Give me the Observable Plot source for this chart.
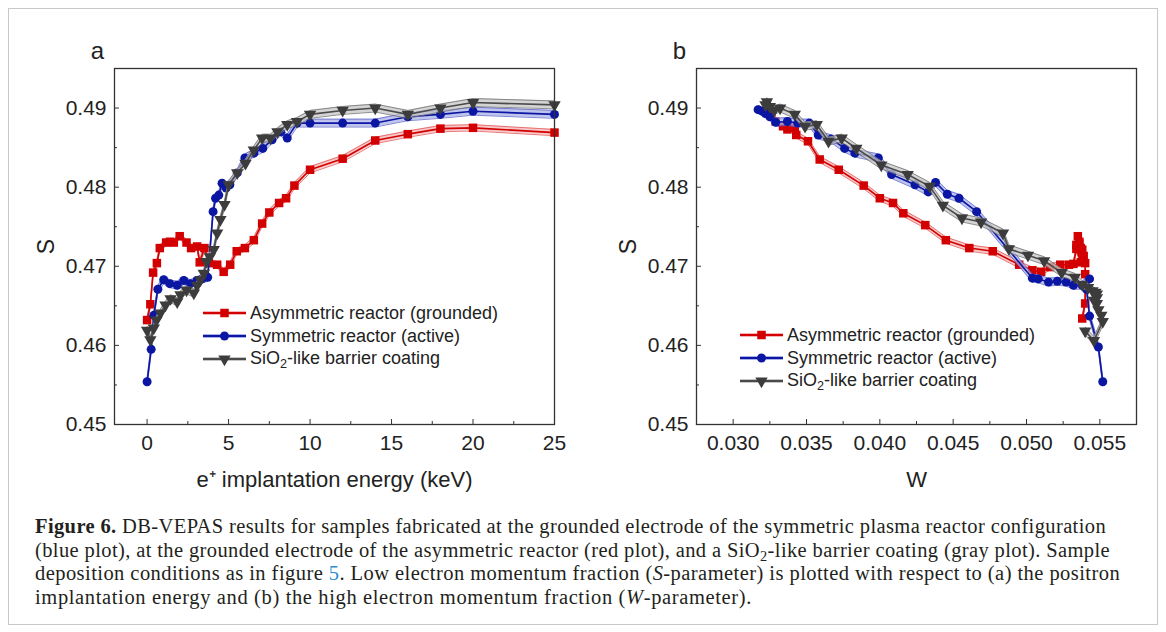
<!DOCTYPE html>
<html>
<head>
<meta charset="utf-8">
<script src="https://cdn.jsdelivr.net/npm/d3@7"></script>
<script src="https://cdn.jsdelivr.net/npm/@observablehq/plot@0.6"></script>
<style>
  body { margin: 0; background: #fff; width: 1166px; height: 632px; overflow: hidden; position: relative;
         font-family: "Liberation Sans", Arial, sans-serif; }
  #border { position: absolute; left: 8px; top: 8px; width: 1150px; height: 617px; border: 1px solid #c8c8c8; box-sizing: border-box; }
  .panel { position: absolute; top: 0; }
  #pa { left: 0; }
  #pb { left: 583px; }
  .legend { position: absolute; font-size: 18px; color: #222; }
  .legend .row { display: flex; align-items: center; height: 22.7px; white-space: nowrap; }
  .legend svg { margin-right: 4px; overflow: visible; }
  .legend sub { font-size: 0.7em; vertical-align: -0.3em; line-height: 0; }
  #caption { position: absolute; left: 35px; top: 515px; font-family: "Liberation Serif", "Times New Roman", serif;
             font-size: 20.5px; line-height: 23.7px; color: #231f20; }
  #caption div { white-space: nowrap; }
  #caption span.line { display: inline-block; }
  #caption sub { font-size: 0.7em; vertical-align: -0.25em; line-height: 0; }
  #caption .ref { color: #2a8ccf; }
</style>
</head>
<body>
<div id="border"></div>
<div id="pa" class="panel"></div>
<div id="pb" class="panel"></div>
<div id="legA" class="legend"></div>
<div id="legB" class="legend"></div>
<div id="caption">
  <div><span class="line" data-width="1071"><b>Figure 6.</b> DB-VEPAS results for samples fabricated at the grounded electrode of the symmetric plasma reactor configuration</span></div>
  <div><span class="line" data-width="1075">(blue plot), at the grounded electrode of the asymmetric reactor (red plot), and a SiO<sub>2</sub>-like barrier coating (gray plot). Sample</span></div>
  <div><span class="line" data-width="1085">deposition conditions as in figure <span class="ref">5</span>. Low electron momentum fraction (<i>S</i>-parameter) is plotted with respect to (a) the positron</span></div>
  <div><span class="line" data-width="717">implantation energy and (b) the high electron momentum fraction (<i>W</i>-parameter).</span></div>
</div>
<script>
// ---- (a) S-parameter vs positron implantation energy (keV) ----
const energyAsym = [0, 0.2, 0.37, 0.6, 0.78, 1.17, 1.4, 1.64, 2.0, 2.42, 2.7, 3.07, 3.23, 3.52, 3.79, 4.3, 4.7, 5.1, 5.5, 6.0, 6.55, 7.06, 7.5, 8.1, 8.53, 9.04, 10, 12, 14, 16, 18, 20, 25];
const sAsym = [0.4632, 0.4652, 0.4692, 0.4704, 0.4723, 0.4730, 0.4731, 0.4730, 0.4738, 0.4730, 0.4723, 0.4725, 0.4705, 0.4723, 0.4704, 0.4702, 0.4693, 0.4702, 0.4719, 0.4723, 0.4733, 0.4754, 0.4768, 0.4780, 0.4786, 0.4802, 0.4822, 0.4836, 0.4859, 0.4867, 0.4874, 0.4875, 0.4869];

const energySym = [0, 0.25, 0.41, 0.66, 1.02, 1.39, 1.85, 2.25, 2.66, 3.07, 3.38, 3.72, 4.05, 4.2, 4.4, 4.6, 4.85, 5.08, 5.53, 6.0, 6.55, 7.1, 7.67, 8.2, 8.6, 9.2, 10, 12, 14, 16, 18, 20, 25];
const sSym = [0.4554, 0.4595, 0.4638, 0.4671, 0.4683, 0.4678, 0.4676, 0.4682, 0.4678, 0.4682, 0.4684, 0.4686, 0.4769, 0.4786, 0.4790, 0.4805, 0.4799, 0.4803, 0.4818, 0.4837, 0.4843, 0.4849, 0.4860, 0.4870, 0.4862, 0.4881, 0.4881, 0.4881, 0.4881, 0.4889, 0.4892, 0.4896, 0.4892];

const energySio = [0, 0.2, 0.41, 0.58, 0.82, 1.13, 1.44, 1.85, 2.05, 2.42, 2.87, 3.07, 3.28, 3.48, 3.64, 3.85, 4.09, 4.3, 4.5, 4.75, 5.0, 5.53, 6.04, 6.55, 7.06, 7.57, 8.0, 8.6, 9.2, 10, 12, 14, 16, 18, 20, 25];
const sSio = [0.4619, 0.4607, 0.4622, 0.4632, 0.4641, 0.4651, 0.4659, 0.4655, 0.4664, 0.4670, 0.4666, 0.4676, 0.4683, 0.4691, 0.4706, 0.4712, 0.4721, 0.4742, 0.4759, 0.4778, 0.4803, 0.4818, 0.4830, 0.4847, 0.4862, 0.4862, 0.4870, 0.4879, 0.4883, 0.4892, 0.4897, 0.4900, 0.4892, 0.4900, 0.4907, 0.4904];

// ---- (b) S-parameter vs W-parameter ----
const wAsym = [0.0538, 0.0540, 0.0540, 0.0540, 0.0539, 0.0538, 0.0536, 0.0534, 0.0535, 0.0536, 0.0537, 0.0535, 0.0537, 0.0534, 0.0532, 0.0529, 0.0523, 0.0516, 0.0510, 0.0504, 0.0495, 0.0477, 0.0461, 0.0445, 0.0431, 0.0416, 0.0409, 0.0400, 0.0389, 0.0372, 0.0359, 0.0351, 0.0343, 0.0342, 0.0337, 0.0334, 0.0329, 0.0326];
const sAsymW = [0.4634, 0.4653, 0.4690, 0.4704, 0.4713, 0.4721, 0.4729, 0.4727, 0.4738, 0.4731, 0.4723, 0.4725, 0.4705, 0.4722, 0.4703, 0.4702, 0.4702, 0.4699, 0.4693, 0.4695, 0.4702, 0.4719, 0.4723, 0.4733, 0.4752, 0.4767, 0.4780, 0.4786, 0.4802, 0.4822, 0.4835, 0.4858, 0.4866, 0.4875, 0.4873, 0.4877, 0.4883, 0.4894];

const wSym = [0.0552, 0.0549, 0.0543, 0.0541, 0.0543, 0.0538, 0.0532, 0.0527, 0.0521, 0.0515, 0.0508, 0.0504, 0.0466, 0.0454, 0.0446, 0.0438, 0.0433, 0.0424, 0.0408, 0.0399, 0.0383, 0.0376, 0.0367, 0.0358, 0.0352, 0.0344, 0.0337, 0.0329, 0.0325, 0.0322, 0.0320, 0.0317];
const sSymW = [0.4554, 0.4598, 0.4637, 0.4671, 0.4684, 0.4676, 0.4676, 0.4680, 0.4681, 0.4680, 0.4684, 0.4685, 0.4769, 0.4786, 0.4791, 0.4806, 0.4794, 0.4803, 0.4816, 0.4837, 0.4843, 0.4849, 0.4861, 0.4866, 0.4881, 0.4881, 0.4883, 0.4882, 0.4889, 0.4893, 0.4896, 0.4898];

const wSio = [0.0540, 0.0546, 0.0552, 0.0551, 0.0549, 0.0548, 0.0548, 0.0546, 0.0548, 0.0545, 0.0547, 0.0542, 0.0538, 0.0533, 0.0524, 0.0512, 0.0501, 0.0488, 0.0484, 0.0469, 0.0456, 0.0443, 0.0434, 0.0419, 0.0401, 0.0384, 0.0374, 0.0365, 0.0357, 0.0349, 0.0342, 0.0332, 0.0328, 0.0325, 0.0323, 0.0322];
const sSioW = [0.4618, 0.4606, 0.4630, 0.4638, 0.4645, 0.4653, 0.4660, 0.4657, 0.4665, 0.4669, 0.4667, 0.4673, 0.4677, 0.4686, 0.4692, 0.4707, 0.4714, 0.4722, 0.4742, 0.4756, 0.4761, 0.4777, 0.4801, 0.4816, 0.4828, 0.4849, 0.4862, 0.4858, 0.4879, 0.4877, 0.4892, 0.4900, 0.4897, 0.4902, 0.4908, 0.4904];

// Half-width of the uncertainty band of each series (S units)
const bandAsym = 0.0004, bandSym = 0.0005, bandSio = 0.0005;

// Tick values
const sTicks = [0.45, 0.46, 0.47, 0.48, 0.49];
const sMinor = [0.455, 0.465, 0.475, 0.485];
const eTicks = [0, 5, 10, 15, 20, 25];
const eMinor = [2.5, 7.5, 12.5, 17.5, 22.5];
const wTicks = [0.030, 0.035, 0.040, 0.045, 0.050, 0.055];
const wMinor = [0.0325, 0.0375, 0.0425, 0.0475, 0.0525];

const seriesNames = ["Asymmetric reactor (grounded)", "Symmetric reactor (active)", "SiO\u2082-like barrier coating"];

// Downward-pointing triangle symbol
const triangleDown = {
  draw(ctx, size) {
    const a = Math.sqrt(size * 4 / Math.sqrt(3));
    const h = a * Math.sqrt(3) / 2;
    ctx.moveTo(-a / 2, -h / 3);
    ctx.lineTo(a / 2, -h / 3);
    ctx.lineTo(0, 2 * h / 3);
    ctx.closePath();
  }
};

const styles = [
  {color: "#d20000", line: "#d20000", band: "#f6b4b4", edge: "#e25a5a", err: bandAsym, symbol: "square", r: 4.8},
  {color: "#0b16a3", line: "#0b16a3", band: "#aab0e8", edge: "#6068c8", err: bandSym, symbol: "circle", r: 4.5},
  {color: "#3c3c3c", line: "#4a4a4a", band: "#c6c6c6", edge: "#707070", err: bandSio, symbol: triangleDown, r: 4.6}
];

const zip = (xs, ys) => xs.map((x, i) => ({x, S: ys[i]}));
const panelA = [zip(energyAsym, sAsym), zip(energySym, sSym), zip(energySio, sSio)];
const panelB = [zip(wAsym, sAsymW), zip(wSym, sSymW), zip(wSio, sSioW)];

function seriesMarks(data, st) {
  return [
    Plot.areaY(data, {x: "x", y1: d => d.S - st.err, y2: d => d.S + st.err, fill: st.band, fillOpacity: 0.75}),
    Plot.line(data, {x: "x", y: d => d.S - st.err, stroke: st.edge, strokeWidth: 0.8}),
    Plot.line(data, {x: "x", y: d => d.S + st.err, stroke: st.edge, strokeWidth: 0.8}),
    Plot.line(data, {x: "x", y: "S", stroke: st.line, strokeWidth: 1.6}),
    Plot.dot(data, {x: "x", y: "S", symbol: st.symbol, r: st.r, fill: st.color, stroke: "none"})
  ];
}

const axisColor = "#333";
function axes(xTicks, xMinor, xFormat) {
  return [
    Plot.axisY(sTicks, {tickSize: -5, tickPadding: 13, tickFormat: d3.format(".2f"), label: null, fontSize: 21, stroke: axisColor}),
    Plot.axisY(sMinor, {tickSize: -3, tickFormat: () => "", label: null, stroke: axisColor}),
    Plot.axisX(xTicks, {tickSize: -5, tickPadding: 16, tickFormat: xFormat, label: null, fontSize: 21, stroke: axisColor}),
    Plot.axisX(xMinor, {tickSize: -3, tickFormat: () => "", label: null, stroke: axisColor})
  ];
}

function panel(datasets, {xDomain, xTicks, xMinor, xFormat, marginLeft, marginRight, xTitle, letter}) {
  return Plot.plot({
    width: 583, height: 500,
    marginTop: 68, marginBottom: 76, marginLeft, marginRight,
    x: {domain: xDomain},
    y: {domain: [0.45, 0.495]},
    style: {fontFamily: "'Liberation Sans', Arial, sans-serif", color: "#222", background: "transparent"},
    marks: [
      ...datasets.flatMap((d, i) => seriesMarks(d, styles[i])),
      Plot.frame({stroke: axisColor, strokeWidth: 1.3}),
      ...axes(xTicks, xMinor, xFormat),
      Plot.text([xTitle], {text: d => d, frameAnchor: "bottom", textAnchor: "middle", dy: 62, fontSize: 22, fill: "#222"}),
      Plot.text(["S"], {text: d => d, frameAnchor: "left", textAnchor: "middle", dx: -68, rotate: -90, fontSize: 23, fill: "#222"}),
      Plot.text([letter], {text: d => d, frameAnchor: "top-left", textAnchor: "middle", dx: -17, dy: -27, fontSize: 24, fill: "#222"})
    ]
  });
}

document.getElementById("pa").append(panel(panelA, {
  xDomain: [-2, 25], xTicks: eTicks, xMinor: eMinor, xFormat: d => String(d),
  marginLeft: 114, marginRight: 29, xTitle: "e\u207A implantation energy (keV)", letter: "a"
}));
document.getElementById("pb").append(panel(panelB, {
  xDomain: [0.0275, 0.0575], xTicks: wTicks, xMinor: wMinor, xFormat: d3.format(".3f"),
  marginLeft: 113, marginRight: 30, xTitle: "W", letter: "b"
}));

// Legends drawn inside each frame
function legend(id, left, top) {
  const box = d3.select("#" + id).style("left", left + "px").style("top", top + "px");
  styles.forEach((st, i) => {
    const row = box.append("div").attr("class", "row");
    const svg = row.append("svg").attr("width", 43).attr("height", 16);
    svg.append("line").attr("x1", 0).attr("x2", 43).attr("y1", 8).attr("y2", 8)
      .attr("stroke", st.band).attr("stroke-width", 4);
    svg.append("line").attr("x1", 0).attr("x2", 43).attr("y1", 8).attr("y2", 8)
      .attr("stroke", st.line).attr("stroke-width", 1.8);
    const sym = typeof st.symbol === "string"
      ? (st.symbol === "square" ? d3.symbolSquare : d3.symbolCircle) : st.symbol;
    svg.append("path").attr("transform", "translate(21.5,8)")
      .attr("d", d3.symbol(sym, Math.PI * st.r * st.r)()).attr("fill", st.color);
    const label = row.append("span");
    if (i === 2) label.html("SiO<sub>2</sub>-like barrier coating");
    else label.text(seriesNames[i]);
  });
}
legend("legA", 203, 302);
legend("legB", 740, 324);

// Justify each caption line to its set width
document.querySelectorAll("#caption span.line").forEach(el => {
  const target = +el.dataset.width;
  const natural = el.getBoundingClientRect().width;
  const chars = el.textContent.length;
  el.style.letterSpacing = ((target - natural) / chars).toFixed(3) + "px";
});
</script>
</body>
</html>
